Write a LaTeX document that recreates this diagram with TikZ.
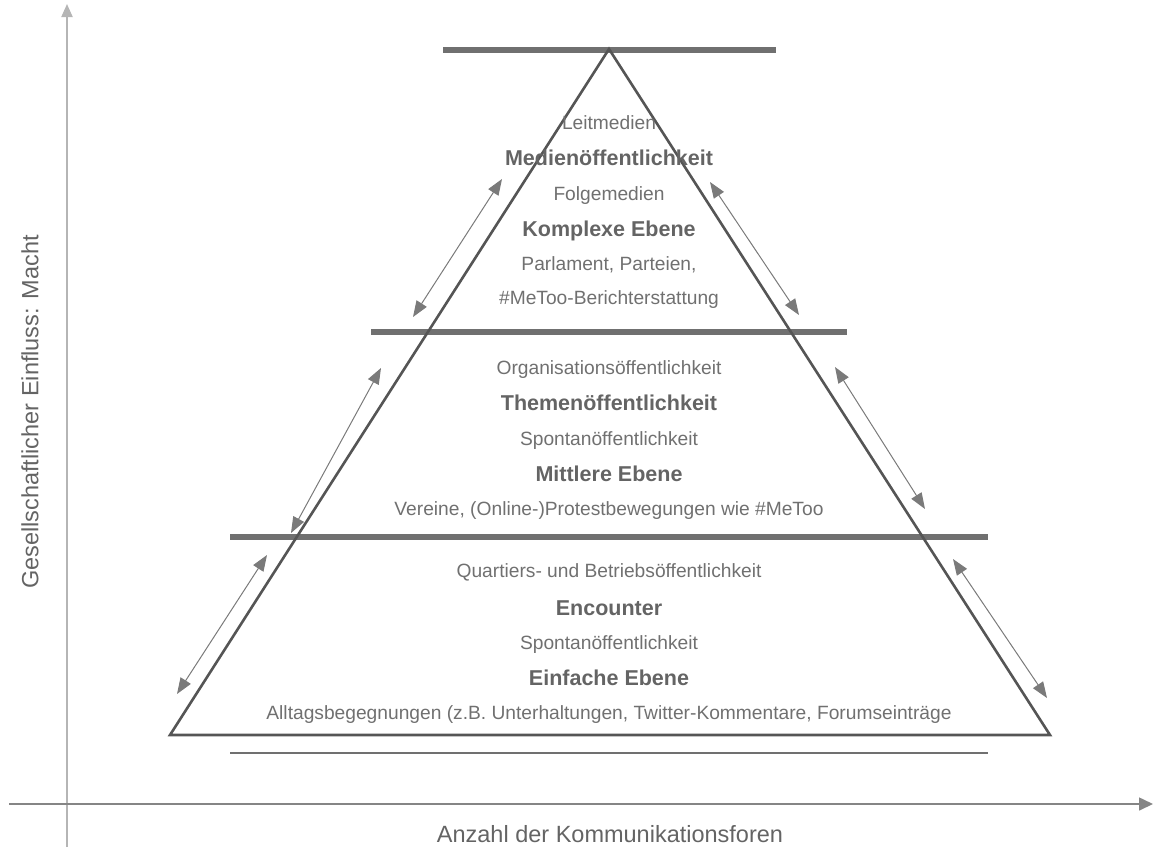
\documentclass[tikz,border=0pt]{standalone}
\usepackage{fontspec}
\setmainfont{Liberation Sans}
\usetikzlibrary{arrows.meta}
\definecolor{txtgray}{HTML}{707070}
\definecolor{boldgray}{HTML}{646464}
\definecolor{bargray}{HTML}{707070}
\definecolor{trigray}{HTML}{555555}
\definecolor{arrgray}{HTML}{7A7A7A}
\definecolor{axgray}{HTML}{858585}
\definecolor{yaxgray}{HTML}{B5B5B5}
\tikzset{
  reg/.style={font=\fontsize{19.2}{22}\selectfont, text=txtgray, inner sep=0pt, anchor=base},
  boldtxt/.style={font=\fontsize{21.5}{25}\selectfont\bfseries, text=boldgray, inner sep=0pt, anchor=base},
  axlabel/.style={font=\fontsize{23.5}{27}\selectfont, text=boldgray, inner sep=0pt},
  bar/.style={draw=bargray, line width=6pt, line cap=butt},
  tri/.style={draw=trigray, line width=2.6pt, line join=miter},
  dblarrow/.style={draw=arrgray, line width=1pt, {Triangle[length=16pt,width=12pt]}-{Triangle[length=16pt,width=12pt]}},
}
\begin{document}
\begin{tikzpicture}[x=1pt,y=-1pt]
\useasboundingbox (0,0) rectangle (1154,847);
% axes
\coordinate (yb) at (67,847);
\coordinate (yt) at (67,4);
\coordinate (xl) at (9,804);
\coordinate (xr) at (1153,804);
\draw[draw=yaxgray, line width=2pt, -{Triangle[length=13pt,width=11pt]}] (yb) -- (yt);
\draw[draw=axgray, line width=1.6pt, -{Triangle[length=14pt,width=13pt]}] (xl) -- (xr);
\node[axlabel, rotate=90] (ylab) at (30,412) {Gesellschaftlicher Einfluss: Macht};
\node[axlabel] (xlab) at (610,834) {Anzahl der Kommunikationsforen};
% bars
\coordinate (b0l) at (443,50); \coordinate (b0r) at (776,50);
\coordinate (b1l) at (371,332); \coordinate (b1r) at (847,332);
\coordinate (b2l) at (230,537); \coordinate (b2r) at (988,537);
\coordinate (b3l) at (230,753); \coordinate (b3r) at (988,753);
\draw[bar] (b0l) -- (b0r);
\draw[bar] (b1l) -- (b1r);
\draw[bar] (b2l) -- (b2r);
\draw[draw=bargray, line width=2.6pt] (b3l) -- (b3r);
% triangle
\coordinate (apex) at (609,49);
\coordinate (bl) at (170,735);
\coordinate (br) at (1050,735);
\draw[tri] (apex) -- (bl) -- (br) -- cycle;
% double arrows
\coordinate (a1s) at (502,179); \coordinate (a1e) at (413,317);
\coordinate (a2s) at (710,182); \coordinate (a2e) at (799,315);
\coordinate (a3s) at (381,368); \coordinate (a3e) at (291,533);
\coordinate (a4s) at (835,367); \coordinate (a4e) at (925,509);
\coordinate (a5s) at (267,555); \coordinate (a5e) at (177,694);
\coordinate (a6s) at (953,559); \coordinate (a6e) at (1047,698);
\draw[dblarrow] (a1s) -- (a1e);
\draw[dblarrow] (a2s) -- (a2e);
\draw[dblarrow] (a3s) -- (a3e);
\draw[dblarrow] (a4s) -- (a4e);
\draw[dblarrow] (a5s) -- (a5e);
\draw[dblarrow] (a6s) -- (a6e);
% top level texts
\node[reg] (t1) at (609,129) {Leitmedien};
\node[boldtxt] (t2) at (609,165) {Medienöffentlichkeit};
\node[reg] (t3) at (609,200) {Folgemedien};
\node[boldtxt] (t4) at (609,236) {Komplexe Ebene};
\node[reg] (t5) at (609,270) {Parlament, Parteien,};
\node[reg] (t6) at (609,304) {\#MeToo-Berichterstattung};
% middle level
\node[reg] (m1) at (609,374) {Organisationsöffentlichkeit};
\node[boldtxt] (m2) at (609,410) {Themenöffentlichkeit};
\node[reg] (m3) at (609,445) {Spontanöffentlichkeit};
\node[boldtxt] (m4) at (609,481) {Mittlere Ebene};
\node[reg] (m5) at (609,515) {Vereine, (Online-)Protestbewegungen wie \#MeToo};
% bottom level
\node[reg] (e1) at (609,577) {Quartiers- und Betriebsöffentlichkeit};
\node[boldtxt] (e2) at (609,615) {Encounter};
\node[reg] (e3) at (609,649) {Spontanöffentlichkeit};
\node[boldtxt] (e4) at (609,685) {Einfache Ebene};
\node[reg] (e5) at (609,719) {Alltagsbegegnungen (z.B. Unterhaltungen, Twitter-Kommentare, Forumseinträge};
\end{tikzpicture}
\end{document}
